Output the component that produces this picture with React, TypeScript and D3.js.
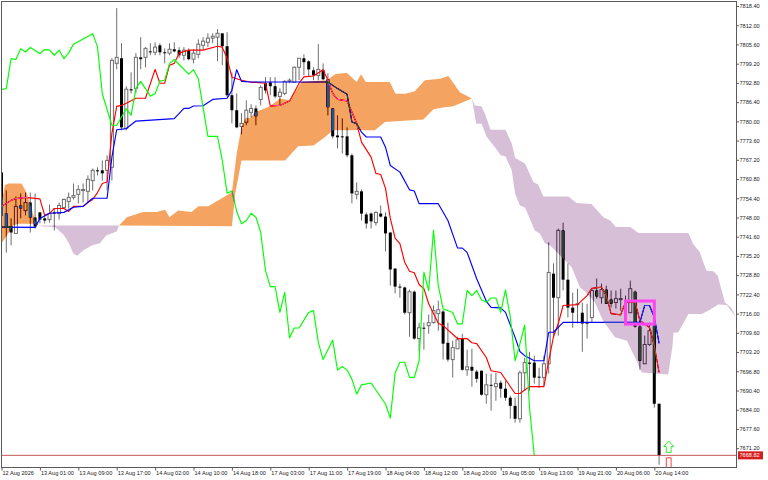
import * as d3 from 'd3';
import { useEffect, useRef } from 'react';

const opens = [
  7763.0, 7749.3, 7745.0, 7742.7, 7752.0, 7750.3, 7753.0, 7748.0, 7749.7, 7747.7,
  7747.3, 7749.7, 7749.3, 7751.3, 7753.3, 7754.7, 7755.7, 7757.0, 7756.7, 7760.3,
  7763.7, 7763.7, 7763.7, 7764.7, 7799.3, 7801.0, 7777.7, 7790.7, 7791.0, 7801.3,
  7801.3, 7803.3, 7803.0, 7805.3, 7803.0, 7802.7, 7804.0, 7803.7, 7802.0, 7803.7,
  7800.7, 7802.3, 7805.3, 7806.3, 7807.7, 7808.0, 7809.3, 7805.0, 7788.7, 7783.7,
  7778.3, 7779.7, 7783.0, 7784.3, 7787.3, 7792.7, 7793.0, 7791.7, 7788.3, 7789.3,
  7793.3, 7793.0, 7798.0, 7801.0, 7800.0, 7797.0, 7795.3, 7797.0, 7794.0, 7784.3,
  7775.3, 7775.0, 7775.0, 7768.7, 7755.7, 7756.7, 7749.0, 7749.3, 7746.3, 7749.3,
  7748.3, 7743.0, 7731.0, 7725.0, 7724.7, 7716.3, 7723.3, 7707.7, 7711.3, 7712.0,
  7713.0, 7716.0, 7716.7, 7706.3, 7700.7, 7704.3, 7707.7, 7697.3, 7698.3, 7696.7,
  7697.0, 7689.0, 7692.3, 7691.7, 7693.0, 7691.0, 7688.0, 7685.3, 7681.0, 7696.3,
  7699.7, 7699.7, 7695.0, 7694.7, 7699.3, 7729.3, 7721.3, 7743.7, 7727.3, 7718.0,
  7719.0, 7716.3, 7713.0, 7714.7, 7723.7, 7721.3, 7724.0, 7720.7, 7719.7, 7720.7,
  7720.3, 7716.3, 7723.3, 7711.7, 7699.3, 7705.7, 7712.0, 7686.0,
];
const highs = [
  7763.0, 7757.0, 7747.7, 7755.0, 7756.0, 7756.3, 7756.3, 7756.0, 7749.7, 7748.7,
  7752.3, 7751.0, 7753.0, 7754.3, 7756.3, 7759.3, 7758.7, 7759.3, 7762.0, 7764.3,
  7764.7, 7767.0, 7768.7, 7801.0, 7817.7, 7806.0, 7791.7, 7796.3, 7802.7, 7808.0,
  7804.7, 7806.0, 7806.3, 7806.0, 7804.3, 7806.0, 7806.3, 7804.7, 7804.7, 7804.3,
  7804.0, 7807.3, 7808.0, 7809.3, 7809.3, 7810.7, 7809.3, 7809.7, 7796.3, 7789.3,
  7782.7, 7787.0, 7785.7, 7785.3, 7792.0, 7794.7, 7794.7, 7794.7, 7791.0, 7793.7,
  7794.3, 7798.3, 7801.0, 7802.3, 7800.3, 7798.0, 7805.7, 7799.3, 7796.0, 7784.3,
  7782.0, 7781.0, 7778.0, 7769.3, 7759.7, 7757.3, 7749.7, 7749.7, 7750.0, 7752.0,
  7749.7, 7743.0, 7731.0, 7726.0, 7725.0, 7724.0, 7723.7, 7713.0, 7713.0, 7715.7,
  7718.7, 7720.3, 7717.3, 7713.0, 7707.0, 7708.3, 7709.3, 7704.0, 7704.3, 7697.3,
  7697.0, 7696.0, 7696.0, 7696.3, 7693.7, 7693.7, 7688.7, 7688.0, 7697.0, 7701.3,
  7703.3, 7702.0, 7698.0, 7702.0, 7739.7, 7732.7, 7744.3, 7746.3, 7732.7, 7723.0,
  7724.3, 7719.7, 7719.3, 7724.3, 7727.7, 7726.0, 7725.3, 7723.7, 7723.7, 7724.3,
  7722.0, 7727.0, 7723.7, 7713.7, 7708.7, 7713.0, 7713.7, 7686.0,
];
const lows = [
  7740.3, 7736.3, 7738.7, 7742.7, 7747.7, 7748.7, 7743.0, 7744.3, 7746.0, 7746.0,
  7746.3, 7743.7, 7747.3, 7751.0, 7751.0, 7754.0, 7752.7, 7753.0, 7753.0, 7757.0,
  7762.0, 7760.3, 7757.0, 7760.3, 7797.3, 7777.0, 7777.0, 7789.3, 7789.3, 7797.3,
  7798.0, 7802.0, 7802.0, 7802.0, 7799.3, 7802.0, 7803.0, 7801.0, 7800.3, 7800.3,
  7799.3, 7801.0, 7803.7, 7804.7, 7806.0, 7800.0, 7798.7, 7788.0, 7779.3, 7777.7,
  7775.7, 7778.7, 7781.3, 7778.7, 7785.3, 7789.3, 7788.7, 7787.7, 7785.3, 7788.7,
  7792.7, 7793.0, 7793.7, 7795.3, 7794.7, 7793.7, 7793.7, 7793.7, 7782.0, 7774.3,
  7771.0, 7769.3, 7768.0, 7752.7, 7754.0, 7747.0, 7744.3, 7744.3, 7745.3, 7748.0,
  7736.7, 7725.3, 7722.7, 7721.3, 7715.7, 7708.3, 7707.3, 7703.3, 7704.0, 7709.3,
  7712.7, 7710.3, 7700.7, 7700.0, 7694.7, 7704.3, 7697.0, 7695.3, 7691.7, 7693.0,
  7688.7, 7686.0, 7683.7, 7687.0, 7688.0, 7687.0, 7681.0, 7679.7, 7679.7, 7690.3,
  7690.3, 7692.7, 7691.3, 7692.0, 7696.0, 7708.7, 7708.7, 7723.7, 7714.7, 7711.3,
  7712.7, 7703.3, 7707.7, 7713.0, 7721.0, 7719.3, 7719.3, 7718.0, 7717.7, 7717.0,
  7716.3, 7716.3, 7711.3, 7697.3, 7699.3, 7705.3, 7684.7, 7665.7,
];
const closes = [
  7748.7, 7744.7, 7743.0, 7751.7, 7751.0, 7753.0, 7748.0, 7745.0, 7747.3, 7747.0,
  7749.3, 7749.3, 7752.0, 7754.0, 7754.7, 7755.3, 7757.3, 7757.3, 7760.7, 7763.7,
  7763.7, 7762.7, 7767.0, 7800.3, 7801.3, 7778.0, 7790.7, 7790.3, 7801.3, 7800.7,
  7804.3, 7803.0, 7804.7, 7803.0, 7802.7, 7804.0, 7803.3, 7802.0, 7803.7, 7800.7,
  7802.7, 7805.7, 7806.7, 7807.7, 7808.3, 7809.3, 7805.0, 7788.7, 7783.7, 7778.0,
  7779.3, 7783.7, 7784.3, 7781.7, 7791.3, 7790.3, 7791.7, 7788.3, 7789.7, 7793.3,
  7793.7, 7798.0, 7801.0, 7799.7, 7797.3, 7795.3, 7797.3, 7794.0, 7784.7, 7775.0,
  7774.7, 7775.0, 7768.7, 7756.0, 7756.7, 7749.3, 7746.0, 7746.7, 7749.7, 7748.3,
  7742.7, 7730.7, 7725.0, 7724.7, 7716.3, 7723.3, 7707.7, 7711.3, 7711.0, 7713.0,
  7717.0, 7717.3, 7706.0, 7700.7, 7704.7, 7707.3, 7697.3, 7698.3, 7697.0, 7694.3,
  7689.0, 7692.3, 7692.0, 7692.7, 7691.0, 7688.0, 7685.3, 7681.0, 7696.3, 7699.7,
  7699.3, 7694.7, 7694.7, 7699.3, 7729.7, 7721.3, 7743.7, 7727.3, 7718.0, 7716.3,
  7719.3, 7712.7, 7712.7, 7723.7, 7721.7, 7724.0, 7719.3, 7719.3, 7721.0, 7721.0,
  7719.7, 7724.3, 7711.7, 7700.3, 7705.7, 7710.3, 7686.0, 7668.82,
];

const tenkanBars = [
  0, 1, 2, 3, 5, 8, 9, 10, 11, 13, 14, 15, 17, 18, 19, 20, 21, 22, 23, 24, 25, 26, 28, 30, 32, 33, 34, 35, 36, 37,
  39, 42, 45, 46, 47, 48, 50, 52, 53, 55, 56, 58, 60, 61, 62, 63, 65, 67, 68, 69, 70, 72, 73, 74, 75, 77, 78, 79,
  80, 81, 82, 83, 84, 85, 86, 87, 88, 89, 91, 92, 95, 97, 98, 99, 101, 102, 104, 107, 108, 110, 113, 114, 115, 116,
  117, 120, 122, 123, 125, 126, 127, 129, 130, 132, 133, 135, 136, 137,
];
const tenkanValues = [
  7751.7, 7752.7, 7753.7, 7754.3, 7754.7, 7754.2, 7748.7, 7749.3, 7751.0, 7751.0, 7750.0, 7751.7, 7751.7, 7753.0,
  7754.0, 7756.3, 7759.3, 7759.8, 7776.0, 7785.0, 7785.3, 7786.0, 7787.7, 7787.7, 7797.3, 7792.7, 7792.7, 7798.7,
  7799.3, 7802.7, 7803.7, 7803.7, 7805.0, 7804.7, 7801.0, 7794.7, 7793.7, 7793.0, 7793.0, 7792.7, 7785.1, 7785.3,
  7786.8, 7789.7, 7792.7, 7794.8, 7795.1, 7797.2, 7793.7, 7789.3, 7787.3, 7786.8, 7783.1, 7779.3, 7773.1, 7768.1,
  7762.7, 7762.3, 7757.7, 7747.7, 7741.1, 7739.3, 7733.1, 7730.1, 7729.6, 7725.7, 7724.3, 7719.3, 7712.8, 7712.0,
  7707.7, 7707.7, 7706.3, 7706.0, 7701.4, 7697.0, 7696.4, 7689.4, 7689.4, 7691.7, 7691.7, 7700.3, 7708.3, 7712.7,
  7718.7, 7719.0, 7722.0, 7724.4, 7724.8, 7722.0, 7716.0, 7715.6, 7719.8, 7719.8, 7713.7, 7711.4, 7705.3, 7696.4,
];
const kijunBars = [
  0, 7, 8, 10, 13, 15, 17, 19, 22, 23, 24, 26, 28, 36, 38, 39, 40, 42, 44, 47, 48, 49, 50, 52, 68, 70, 72, 73, 74,
  75, 76, 79, 80, 81, 83, 85, 86, 87, 91, 93, 95, 96, 97, 99, 101, 102, 104, 105, 107, 108, 109, 111, 113, 114, 115,
  117, 133, 134, 135, 136, 137,
];
const kijunValues = [
  7744.8, 7744.7, 7747.7, 7749.4, 7749.7, 7751.4, 7751.7, 7754.4, 7754.4, 7768.1, 7777.2, 7777.6, 7780.1, 7780.9,
  7784.3, 7784.3, 7785.1, 7785.2, 7787.3, 7787.7, 7790.3, 7797.2, 7793.3, 7793.1, 7793.1, 7790.9, 7789.0, 7779.8,
  7779.2, 7776.4, 7774.8, 7774.8, 7771.4, 7765.3, 7763.1, 7757.2, 7756.8, 7752.6, 7752.6, 7747.0, 7737.9, 7737.8,
  7736.4, 7727.6, 7720.1, 7718.1, 7717.9, 7716.4, 7708.1, 7703.4, 7702.0, 7700.3, 7700.3, 7709.8, 7709.8, 7713.1,
  7713.1, 7718.7, 7718.7, 7714.8, 7706.1,
];
const chikouBars = [
  0, 1, 2, 3, 4, 5, 6, 8, 9, 10, 11, 12, 13, 14, 15, 19, 20, 21, 23, 24, 26, 27, 28, 29, 31, 32, 33, 34, 35, 36, 39,
  40, 41, 43, 45, 46, 47, 48, 49, 50, 51, 52, 53, 54, 55, 56, 57, 58, 59, 60, 61, 62, 64, 65, 66, 67, 69, 70, 71, 72,
  73, 74, 75, 77, 80, 81, 82, 83, 84, 85, 86, 87, 88, 89, 90, 91, 92, 94, 95, 96, 97, 98, 99, 100, 101, 102, 103,
  104, 105, 106, 107, 108, 109, 110, 111,
];
const chikouValues = [
  7790.6, 7790.9, 7800.9, 7800.6, 7804.2, 7803.1, 7804.6, 7802.6, 7803.9, 7803.7, 7802.0, 7803.7, 7800.9, 7802.8,
  7805.7, 7809.2, 7804.8, 7789.2, 7778.7, 7778.7, 7784.2, 7782.0, 7790.9, 7793.3, 7788.4, 7789.2, 7793.4, 7793.7,
  7799.2, 7800.6, 7795.7, 7797.2, 7794.2, 7775.0, 7775.0, 7767.0, 7756.1, 7756.8, 7750.0, 7745.9, 7747.0, 7749.4,
  7748.1, 7743.1, 7730.3, 7725.0, 7725.0, 7716.4, 7723.1, 7707.9, 7711.2, 7711.2, 7716.4, 7717.0, 7706.4, 7700.7,
  7707.2, 7697.2, 7698.4, 7697.2, 7694.2, 7689.2, 7692.3, 7692.9, 7685.9, 7681.2, 7696.2, 7699.8, 7699.8, 7694.8,
  7694.8, 7700.3, 7729.8, 7723.7, 7743.7, 7725.3, 7717.6, 7716.4, 7712.6, 7712.6, 7723.7, 7722.0, 7723.7, 7720.6,
  7719.8, 7721.2, 7721.2, 7716.4, 7723.9, 7714.8, 7700.3, 7705.9, 7712.2, 7684.7, 7668.82,
];

const spanABars = [
  0, 0.7, 1.4, 4.2, 5.3, 7, 7.7, 8.6, 11.1, 12.9, 13.9, 15, 15.8, 17, 18.8, 20.5, 21.8, 24, 24.5, 26.1, 29.5, 32.3,
  34.1, 35, 36.8, 39.6, 41, 43.1, 48, 49, 50, 50.9, 51.8, 52.8, 53.9, 55.9, 58, 60.1, 62.5, 67.8, 69.5, 71.9, 74,
  74.9, 75.9, 80.9, 82.1, 84.1, 86.1, 88.2, 91.4, 93.1, 95.5, 98, 98.9, 100, 101.1, 102.8, 104, 105, 106.3, 107,
  108, 109.1, 111.1, 112.2, 113.2, 114.3, 116, 118.8, 120.5, 122, 123.6, 125.3, 127.8, 130.3, 132.3, 133.4, 138.9,
  139.8, 140, 141, 142, 143.1, 145.9, 147.6, 149.3, 151.1, 153,
];
const spanAValues = [
  7752.7, 7758.7, 7759.3, 7759.3, 7756.0, 7747.0, 7745.3, 7745.0, 7744.8, 7742.3, 7739.8, 7735.9, 7735.3, 7737.0,
  7738.7, 7739.4, 7742.0, 7743.3, 7745.3, 7748.1, 7749.8, 7749.8, 7750.6, 7748.1, 7750.3, 7749.8, 7751.7, 7751.7,
  7756.4, 7769.3, 7778.0, 7781.2, 7781.0, 7783.1, 7783.7, 7785.0, 7787.6, 7787.0, 7793.1, 7793.7, 7795.7, 7796.2,
  7793.1, 7795.7, 7793.1, 7793.1, 7789.2, 7789.2, 7790.0, 7793.7, 7794.2, 7795.1, 7789.7, 7787.6, 7779.2, 7779.2,
  7774.8, 7771.4, 7768.7, 7768.3, 7763.7, 7755.9, 7752.0, 7751.2, 7743.7, 7742.6, 7739.3, 7738.7, 7736.0, 7731.4,
  7724.8, 7722.7, 7719.8, 7713.7, 7708.1, 7707.0, 7700.3, 7696.4, 7695.7, 7705.3, 7709.6, 7709.8, 7712.6, 7715.9,
  7715.9, 7717.3, 7719.0, 7718.9, 7714.8,
];
const spanBBars = [
  0, 0.7, 1.8, 2.4, 3.5, 6.6, 7.7, 24.5, 48, 48.7, 50, 59.1, 61.8, 65, 67.4, 69.1, 77.8, 79.9, 87.9, 90, 92, 94.1,
  98, 98.6, 100, 100.7, 101.9, 105, 106.3, 107, 109.1, 110.8, 111.8, 112.9, 118.1, 119.8, 122.9, 125.4, 126.8, 128,
  131, 132.7, 143.1, 144.1, 145.5, 146.2, 146.9, 148.3, 149.2, 150.7, 152.1, 153,
];
const spanBValues = [
  7739.3, 7741.0, 7743.7, 7745.3, 7745.9, 7745.9, 7745.3, 7745.3, 7745.1, 7756.0, 7767.0, 7767.0, 7771.7, 7772.0,
  7774.8, 7777.0, 7777.0, 7779.8, 7780.6, 7784.0, 7784.6, 7785.0, 7787.6, 7785.3, 7785.0, 7782.6, 7777.2, 7777.2,
  7772.6, 7767.9, 7765.9, 7759.8, 7759.0, 7755.0, 7755.0, 7752.8, 7752.5, 7748.1, 7747.0, 7744.8, 7744.8, 7742.8,
  7742.8, 7739.2, 7736.4, 7733.1, 7730.3, 7730.1, 7728.7, 7719.8, 7717.8, 7714.8,
];
// bars where the two spans cross
const kumoCrossings = [0, 7.7, 24.5, 98, 153];

const priceTicks = [
  7818.4, 7812, 7805.6, 7799.2, 7792.8, 7786.4, 7780, 7773.6, 7767.2, 7760.8, 7754.4, 7748, 7741.6, 7735.2, 7728.8,
  7722.4, 7716, 7709.6, 7703.2, 7696.8, 7690.4, 7684, 7677.6, 7671.2,
];
const timeLabels = [
  '12 Aug 2026', '13 Aug 01:00', '13 Aug 09:00', '13 Aug 17:00', '14 Aug 02:00', '14 Aug 10:00', '14 Aug 18:00',
  '17 Aug 03:00', '17 Aug 11:00', '17 Aug 19:00', '18 Aug 04:00', '18 Aug 12:00', '18 Aug 20:00', '19 Aug 05:00',
  '19 Aug 13:00', '19 Aug 21:00', '20 Aug 06:00', '20 Aug 14:00',
];
const lastPrice = 7668.82;
const boxBars = [130, 136];
const boxPrices = [7720.2, 7712.5];
const arrowBar = 139;
const buyArrowPrices = [7669.8, 7673.6];
const sellArrowPrices = [7668.0, 7662.8];

// XOR look of the terminal: white gives the colour itself, black gives its inverse
function inverse(color: string) {
  const c = d3.rgb(color);
  return d3.rgb(255 - c.r, 255 - c.g, 255 - c.b).formatHex();
}

export default function App() {
  const ref = useRef<SVGSVGElement | null>(null);

  useEffect(() => {
    const svg = d3.select(ref.current);
    svg.selectAll('*').remove();
    const fontFamily = '"Liberation Sans", Arial, sans-serif';

    const x = d3.scaleLinear().domain([0, 137]).range([1.5, 659.1]);
    const y = d3.scaleLinear().domain([7671.2, 7818.4]).range([448.2, 6]);
    const left = 1.5;
    const right = 736.5;
    const top = 1.5;
    const bottom = 467.5;

    svg.append('rect').attr('width', 768).attr('height', 480).attr('fill', '#ffffff');
    svg
      .append('clipPath')
      .attr('id', 'plot')
      .append('rect')
      .attr('x', left)
      .attr('y', top)
      .attr('width', right - left)
      .attr('height', bottom - top);
    const plot = svg.append('g').attr('clip-path', 'url(#plot)');
    plot
      .append('rect')
      .attr('x', left)
      .attr('y', top)
      .attr('width', right - left)
      .attr('height', bottom - top)
      .attr('fill', '#ffffff');

    // candles
    const bars = d3.range(opens.length);
    plot
      .append('g')
      .selectAll('line')
      .data(bars)
      .join('line')
      .attr('x1', (i) => x(i))
      .attr('x2', (i) => x(i))
      .attr('y1', (i) => y(highs[i]))
      .attr('y2', (i) => y(lows[i]))
      .attr('stroke', '#6e6e6e')
      .attr('stroke-width', 1);
    plot
      .append('g')
      .selectAll('rect')
      .data(bars)
      .join('rect')
      .attr('x', (i) => x(i) - 1.5)
      .attr('width', 3)
      .attr('y', (i) => y(Math.max(opens[i], closes[i])))
      .attr('height', (i) => Math.max(1, Math.abs(y(opens[i]) - y(closes[i]))))
      .attr('fill', (i) => (closes[i] > opens[i] ? '#ffffff' : '#000000'))
      .attr('stroke', (i) => (closes[i] > opens[i] ? '#6e6e6e' : 'none'))
      .attr('stroke-width', 1);

    // ichimoku lines
    const drawLine = (barList: number[], values: number[], color: string) => {
      const path = d3
        .line<number>()
        .x((b) => x(b))
        .y((_, i) => y(values[i]))(barList);
      plot
        .append('path')
        .attr('d', path ?? '')
        .attr('fill', 'none')
        .attr('stroke', color)
        .attr('stroke-width', 1.15)
        .attr('stroke-linejoin', 'round');
    };
    drawLine(tenkanBars, tenkanValues, '#ff0000');
    drawLine(kijunBars, kijunValues, '#0000ff');
    drawLine(chikouBars, chikouValues, '#00ff00');

    // kumo goes on top with a difference blend so candles and lines invert under it
    const polygon = d3
      .line<[number, number]>()
      .x((d) => x(d[0]))
      .y((d) => y(d[1]));
    d3.pairs(kumoCrossings).forEach(([from, to], block) => {
      const upper = spanABars
        .map((b, i) => [b, spanAValues[i]] as [number, number])
        .filter((d) => d[0] >= from && d[0] <= to);
      const lower = spanBBars
        .map((b, i) => [b, spanBValues[i]] as [number, number])
        .filter((d) => d[0] >= from && d[0] <= to)
        .reverse();
      plot
        .append('path')
        .attr('d', `${polygon([...upper, ...lower]) ?? ''}Z`)
        .attr('fill', inverse(block % 2 === 0 ? '#f4a460' : '#d8bfd8'))
        .style('mix-blend-mode', 'difference');
    });

    // selection box
    plot
      .append('rect')
      .attr('x', x(boxBars[0]))
      .attr('y', y(boxPrices[0]))
      .attr('width', x(boxBars[1]) - x(boxBars[0]))
      .attr('height', y(boxPrices[1]) - y(boxPrices[0]))
      .attr('fill', 'none')
      .attr('stroke', '#ff44f0')
      .attr('stroke-width', 3);

    // last price line
    plot
      .append('line')
      .attr('x1', left)
      .attr('x2', right)
      .attr('y1', y(lastPrice))
      .attr('y2', y(lastPrice))
      .attr('stroke', '#c8585c')
      .attr('stroke-width', 1);

    // trade arrows, outlined
    const drawArrow = (prices: number[], color: string) => {
      const cx = x(arrowBar);
      const base = y(prices[0]);
      const tip = y(prices[1]);
      const dir = Math.sign(tip - base);
      const neck = tip - dir * 5.5;
      const p = d3.path();
      p.moveTo(cx - 2.4, base);
      p.lineTo(cx - 2.4, neck);
      p.lineTo(cx - 5, neck);
      p.lineTo(cx, tip);
      p.lineTo(cx + 5, neck);
      p.lineTo(cx + 2.4, neck);
      p.lineTo(cx + 2.4, base);
      p.closePath();
      plot.append('path').attr('d', p.toString()).attr('fill', '#ffffff').attr('stroke', color).attr('stroke-width', 1);
    };
    drawArrow(buyArrowPrices, '#33ee33');
    drawArrow(sellArrowPrices, '#ff4040');

    // axes
    const yAxis = svg
      .append('g')
      .attr('transform', `translate(${right},0)`)
      .call(
        d3
          .axisRight(y)
          .tickValues(priceTicks)
          .tickSize(2.5)
          .tickPadding(0.5)
          .tickFormat((d) => (d as number).toFixed(2))
      );
    const xAxis = svg
      .append('g')
      .attr('transform', `translate(0,${bottom})`)
      .call(
        d3
          .axisBottom(x)
          .tickValues(timeLabels.map((_, i) => i * 8))
          .tickSize(3)
          .tickPadding(1)
          .tickFormat((_, i) => timeLabels[i])
      );
    [yAxis, xAxis].forEach((axis) => {
      axis.select('.domain').remove();
      axis.selectAll('line').attr('stroke', '#5a5a5a');
      axis.selectAll('text').attr('fill', '#222222').attr('font-family', fontFamily).attr('font-size', 5.6);
    });
    xAxis.selectAll('text').attr('text-anchor', 'start').attr('dx', 0.5);

    svg
      .append('rect')
      .attr('x', left)
      .attr('y', top)
      .attr('width', right - left)
      .attr('height', bottom - top)
      .attr('fill', 'none')
      .attr('stroke', '#5a5a5a')
      .attr('stroke-width', 1);

    // last price tag
    svg
      .append('rect')
      .attr('x', right + 1.5)
      .attr('y', y(lastPrice) - 4)
      .attr('width', 25)
      .attr('height', 8)
      .attr('fill', '#d81c1c');
    svg
      .append('text')
      .attr('x', right + 3)
      .attr('y', y(lastPrice) + 2)
      .attr('fill', '#ffffff')
      .attr('font-family', fontFamily)
      .attr('font-size', 5.6)
      .text(lastPrice.toFixed(2));
  }, []);

  return <svg ref={ref} width={768} height={480} style={{ position: 'absolute', left: 0, top: 0 }} />;
}
